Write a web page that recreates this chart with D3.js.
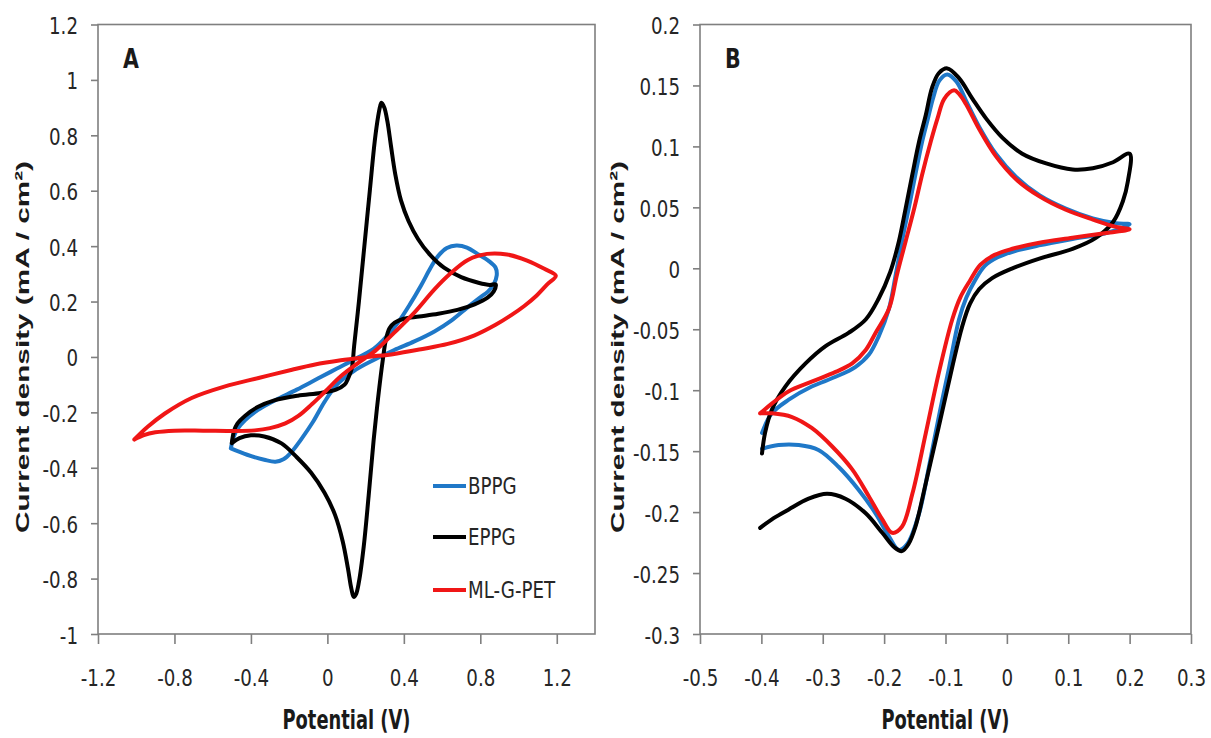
<!DOCTYPE html>
<html>
<head>
<meta charset="utf-8">
<script src="https://cdn.jsdelivr.net/npm/d3@7"></script>
<style>
  html, body { margin: 0; padding: 0; background: #ffffff; }
  svg { display: block; }
</style>
</head>
<body>
<svg id="chart" width="1211" height="738"></svg>
<script>
// ---------------- data ----------------
const seriesNames = ["BPPG", "EPPG", "ML-G-PET"];

const panelAXTicks = [-1.2, -0.8, -0.4, 0, 0.4, 0.8, 1.2];
const panelAYTicks = [-1, -0.8, -0.6, -0.4, -0.2, 0, 0.2, 0.4, 0.6, 0.8, 1, 1.2];
const panelBXTicks = [-0.5, -0.4, -0.3, -0.2, -0.1, 0, 0.1, 0.2, 0.3];
const panelBYTicks = [-0.3, -0.25, -0.2, -0.15, -0.1, -0.05, 0, 0.05, 0.1, 0.15, 0.2];

// Panel A: cyclic voltammograms, [potential V, current density mA/cm2]
const bppgA = [
  [-0.505,-0.330],[-0.490,-0.288],[-0.470,-0.260],[-0.430,-0.228],[-0.365,-0.192],
  [-0.275,-0.157],[-0.160,-0.118],[-0.050,-0.078],[0.050,-0.042],[0.150,-0.006],
  [0.240,0.028],[0.310,0.074],[0.370,0.125],[0.430,0.188],[0.490,0.258],
  [0.540,0.322],[0.580,0.365],[0.625,0.393],[0.675,0.402],[0.730,0.395],
  [0.785,0.372],[0.845,0.346],[0.880,0.322],[0.886,0.295],[0.870,0.262],
  [0.840,0.236],[0.800,0.215],[0.735,0.180],[0.650,0.132],[0.560,0.092],
  [0.455,0.056],[0.350,0.025],[0.245,-0.010],[0.140,-0.050],[0.050,-0.100],
  [-0.015,-0.162],[-0.075,-0.234],[-0.140,-0.300],[-0.190,-0.345],[-0.230,-0.369],
  [-0.272,-0.378],[-0.330,-0.371],[-0.420,-0.353],[-0.505,-0.330]
];
const eppgA = [
  [-0.500,-0.311],[-0.488,-0.266],[-0.470,-0.240],[-0.430,-0.212],[-0.365,-0.181],
  [-0.278,-0.157],[-0.155,-0.140],[-0.035,-0.130],[0.045,-0.118],[0.090,-0.100],
  [0.110,-0.075],[0.128,-0.040],[0.140,0.040],[0.165,0.200],[0.192,0.390],
  [0.222,0.600],[0.248,0.780],[0.266,0.870],[0.276,0.905],[0.283,0.918],
  [0.298,0.900],[0.314,0.850],[0.333,0.760],[0.355,0.660],[0.385,0.565],
  [0.425,0.490],[0.475,0.425],[0.535,0.370],[0.610,0.322],[0.700,0.288],
  [0.790,0.268],[0.850,0.260],[0.880,0.262],[0.870,0.236],[0.838,0.214],
  [0.770,0.190],[0.680,0.170],[0.580,0.156],[0.480,0.146],[0.400,0.138],
  [0.352,0.124],[0.325,0.104],[0.306,0.062],[0.290,-0.010],[0.265,-0.150],
  [0.242,-0.300],[0.216,-0.500],[0.190,-0.685],[0.165,-0.812],[0.150,-0.856],
  [0.138,-0.866],[0.125,-0.835],[0.108,-0.765],[0.080,-0.665],[0.040,-0.570],
  [-0.015,-0.490],[-0.085,-0.418],[-0.160,-0.362],[-0.240,-0.312],[-0.330,-0.287],
  [-0.400,-0.283],[-0.460,-0.293],[-0.500,-0.311]
];
const mlgA = [
  [-1.010,-0.298],[-0.960,-0.282],[-0.900,-0.272],[-0.800,-0.266],[-0.650,-0.266],
  [-0.500,-0.267],[-0.380,-0.265],[-0.300,-0.257],[-0.220,-0.240],[-0.150,-0.212],
  [-0.080,-0.170],[-0.010,-0.124],[0.070,-0.070],[0.160,-0.022],[0.250,0.022],
  [0.350,0.088],[0.455,0.160],[0.560,0.244],[0.645,0.302],[0.735,0.350],
  [0.835,0.372],[0.940,0.370],[1.045,0.348],[1.135,0.318],[1.195,0.293],
  [1.150,0.262],[1.095,0.222],[1.030,0.184],[0.960,0.150],[0.880,0.116],
  [0.770,0.078],[0.630,0.047],[0.490,0.028],[0.350,0.011],[0.210,0.000],
  [0.070,-0.012],[-0.070,-0.028],[-0.185,-0.046],[-0.360,-0.076],[-0.535,-0.106],
  [-0.710,-0.148],[-0.850,-0.204],[-0.940,-0.252],[-1.010,-0.298]
];

// Panel B
const bppgB = [
  [-0.399,-0.148],[-0.372,-0.145],[-0.339,-0.145],[-0.307,-0.149],[-0.274,-0.163],
  [-0.241,-0.182],[-0.214,-0.201],[-0.192,-0.220],[-0.176,-0.231],[-0.162,-0.226],
  [-0.143,-0.201],[-0.127,-0.163],[-0.111,-0.122],[-0.094,-0.081],[-0.078,-0.042],
  [-0.066,-0.024],[-0.052,-0.010],[-0.036,0.002],[-0.015,0.009],[0.012,0.014],
  [0.055,0.019],[0.107,0.024],[0.162,0.029],[0.200,0.036],[0.178,0.037],
  [0.140,0.041],[0.096,0.049],[0.053,0.060],[0.015,0.075],[-0.018,0.094],
  [-0.045,0.116],[-0.067,0.138],[-0.082,0.153],[-0.097,0.159],[-0.110,0.154],
  [-0.120,0.140],[-0.129,0.122],[-0.138,0.104],[-0.149,0.077],[-0.160,0.049],
  [-0.171,0.022],[-0.181,-0.005],[-0.192,-0.033],[-0.209,-0.056],[-0.225,-0.071],
  [-0.247,-0.081],[-0.279,-0.089],[-0.318,-0.097],[-0.356,-0.108],[-0.383,-0.119],
  [-0.399,-0.135]
];
const eppgB = [
  [-0.402,-0.213],[-0.380,-0.205],[-0.356,-0.198],[-0.323,-0.189],[-0.293,-0.185],
  [-0.263,-0.189],[-0.230,-0.201],[-0.203,-0.217],[-0.183,-0.229],[-0.171,-0.232],
  [-0.160,-0.226],[-0.149,-0.212],[-0.132,-0.176],[-0.111,-0.130],[-0.089,-0.081],
  [-0.073,-0.048],[-0.060,-0.029],[-0.045,-0.017],[-0.024,-0.008],[0.009,0.000],
  [0.053,0.008],[0.107,0.016],[0.145,0.025],[0.173,0.038],[0.189,0.055],
  [0.197,0.071],[0.200,0.094],[0.173,0.087],[0.140,0.082],[0.107,0.081],
  [0.064,0.086],[0.025,0.094],[-0.007,0.107],[-0.034,0.123],[-0.056,0.139],
  [-0.078,0.156],[-0.097,0.164],[-0.111,0.160],[-0.122,0.148],[-0.132,0.126],
  [-0.143,0.104],[-0.154,0.077],[-0.165,0.049],[-0.176,0.022],[-0.190,-0.003],
  [-0.209,-0.025],[-0.230,-0.042],[-0.258,-0.053],[-0.296,-0.064],[-0.328,-0.078],
  [-0.361,-0.097],[-0.383,-0.116],[-0.394,-0.135],[-0.399,-0.152]
];
const mlgB = [
  [-0.402,-0.119],[-0.383,-0.119],[-0.350,-0.122],[-0.318,-0.131],[-0.285,-0.146],
  [-0.252,-0.165],[-0.225,-0.187],[-0.203,-0.206],[-0.187,-0.217],[-0.171,-0.212],
  [-0.154,-0.185],[-0.132,-0.135],[-0.111,-0.086],[-0.089,-0.042],[-0.076,-0.024],
  [-0.060,-0.010],[-0.043,0.003],[-0.020,0.011],[0.009,0.016],[0.053,0.021],
  [0.107,0.025],[0.162,0.029],[0.200,0.032],[0.178,0.034],[0.140,0.040],
  [0.096,0.048],[0.053,0.059],[0.015,0.073],[-0.018,0.092],[-0.045,0.114],
  [-0.067,0.135],[-0.078,0.143],[-0.086,0.146],[-0.102,0.139],[-0.113,0.123],
  [-0.124,0.104],[-0.138,0.077],[-0.151,0.049],[-0.165,0.022],[-0.179,-0.005],
  [-0.192,-0.033],[-0.214,-0.053],[-0.230,-0.067],[-0.252,-0.078],[-0.279,-0.085],
  [-0.318,-0.093],[-0.356,-0.101],[-0.383,-0.111],[-0.402,-0.119]
];

// ---------------- layout & style ----------------
const colors = { "BPPG": "#1f78c8", "EPPG": "#000000", "ML-G-PET": "#f01616" };
const frameColor = "#7f7f7f";
const labelColor = "#262626";
const tickFont = "'Liberation Sans Narrow', 'Arial Narrow', 'DejaVu Sans Condensed', sans-serif";
const titleFont = "'Liberation Sans', Arial, sans-serif";
const condense = 0.88;   // horizontal squeeze applied to tick and legend text

const panels = [
  { letter: "A", left: 98, right: 595, top: 24.5, bottom: 634, titleX: 29,
    xDomain: [-1.2, 1.4], yDomain: [-1, 1.2], xTicks: panelAXTicks, yTicks: panelAYTicks,
    series: { "BPPG": bppgA, "EPPG": eppgA, "ML-G-PET": mlgA }, legend: true },
  { letter: "B", left: 700, right: 1191, top: 24.5, bottom: 634, titleX: 624,
    xDomain: [-0.5, 0.3], yDomain: [-0.3, 0.2], xTicks: panelBXTicks, yTicks: panelBYTicks,
    series: { "BPPG": bppgB, "EPPG": eppgB, "ML-G-PET": mlgB }, legend: false }
];

const svg = d3.select("#chart");

// squeeze text horizontally by a fixed ratio of its natural width
function squeeze(sel) {
  sel.each(function () {
    const w = this.getComputedTextLength();
    if (w > 0) {
      d3.select(this).attr("textLength", (w * condense).toFixed(1))
        .attr("lengthAdjust", "spacingAndGlyphs");
    }
  });
}

panels.forEach(p => {
  const x = d3.scaleLinear().domain(p.xDomain).range([p.left, p.right]);
  const y = d3.scaleLinear().domain(p.yDomain).range([p.bottom, p.top]);
  const g = svg.append("g");

  // plot frame
  g.append("rect")
    .attr("x", p.left).attr("y", p.top)
    .attr("width", p.right - p.left).attr("height", p.bottom - p.top)
    .attr("fill", "none").attr("stroke", frameColor).attr("stroke-width", 1.6);

  // y axis
  const yAxis = g.append("g")
    .attr("transform", `translate(${p.left},0)`)
    .call(d3.axisLeft(y).tickValues(p.yTicks).tickSize(7).tickPadding(13)
      .tickFormat(d => String(d)));
  yAxis.select(".domain").remove();
  yAxis.selectAll(".tick line").attr("stroke", frameColor).attr("stroke-width", 1.6);
  yAxis.selectAll(".tick text")
    .attr("font-family", tickFont).attr("font-size", 23)
    .attr("fill", labelColor).attr("dy", 9)
    .call(squeeze);

  // x axis
  const xAxis = g.append("g")
    .attr("transform", `translate(0,${p.bottom})`)
    .call(d3.axisBottom(x).tickValues(p.xTicks).tickSize(10).tickPadding(0)
      .tickFormat(d => String(d)));
  xAxis.select(".domain").remove();
  xAxis.selectAll(".tick line").attr("stroke", frameColor).attr("stroke-width", 1.6);
  xAxis.selectAll(".tick text")
    .attr("font-family", tickFont).attr("font-size", 23)
    .attr("fill", labelColor).attr("y", 52).attr("dy", 0)
    .call(squeeze);

  // axis titles
  const midX = (p.left + p.right) / 2;
  g.append("text")
    .attr("x", midX).attr("y", 729)
    .attr("text-anchor", "middle")
    .attr("font-family", tickFont).attr("font-weight", "bold").attr("font-size", 27)
    .attr("textLength", 128).attr("lengthAdjust", "spacingAndGlyphs")
    .attr("fill", "#1a1a1a")
    .text("Potential (V)");

  g.append("text")
    .attr("transform", `translate(${p.titleX},347) rotate(-90)`)
    .attr("text-anchor", "middle")
    .attr("font-family", titleFont).attr("font-weight", "bold").attr("font-size", 19)
    .attr("textLength", 372).attr("lengthAdjust", "spacingAndGlyphs")
    .attr("fill", "#1a1a1a")
    .text("Current density (mA / cm\u00B2)");

  // panel letter
  g.append("text")
    .attr("x", p.left + 25).attr("y", 68)
    .attr("font-family", tickFont).attr("font-weight", "bold").attr("font-size", 26)
    .attr("fill", "#1a1a1a")
    .text(p.letter)
    .call(squeeze);

  // curves
  const line = d3.line()
    .x(d => x(d[0])).y(d => y(d[1]))
    .curve(d3.curveCatmullRom.alpha(0.5));
  const clipId = "clip" + p.letter;
  svg.append("clipPath").attr("id", clipId)
    .append("rect").attr("x", p.left).attr("y", p.top)
    .attr("width", p.right - p.left).attr("height", p.bottom - p.top);
  const curves = g.append("g").attr("clip-path", `url(#${clipId})`);
  seriesNames.forEach(name => {
    curves.append("path")
      .datum(p.series[name])
      .attr("d", line)
      .attr("fill", "none")
      .attr("stroke", colors[name])
      .attr("stroke-width", 4)
      .attr("stroke-linejoin", "round")
      .attr("stroke-linecap", "round");
  });

  // legend
  if (p.legend) {
    const legendY = [486, 537, 590];
    seriesNames.forEach((name, i) => {
      g.append("line")
        .attr("x1", 433).attr("x2", 466)
        .attr("y1", legendY[i]).attr("y2", legendY[i])
        .attr("stroke", colors[name]).attr("stroke-width", 4);
      g.append("text")
        .attr("x", 468).attr("y", legendY[i] + 8)
        .attr("font-family", tickFont).attr("font-size", 23)
        .attr("fill", labelColor)
        .text(name)
        .call(squeeze);
    });
  }
});
</script>
</body>
</html>
